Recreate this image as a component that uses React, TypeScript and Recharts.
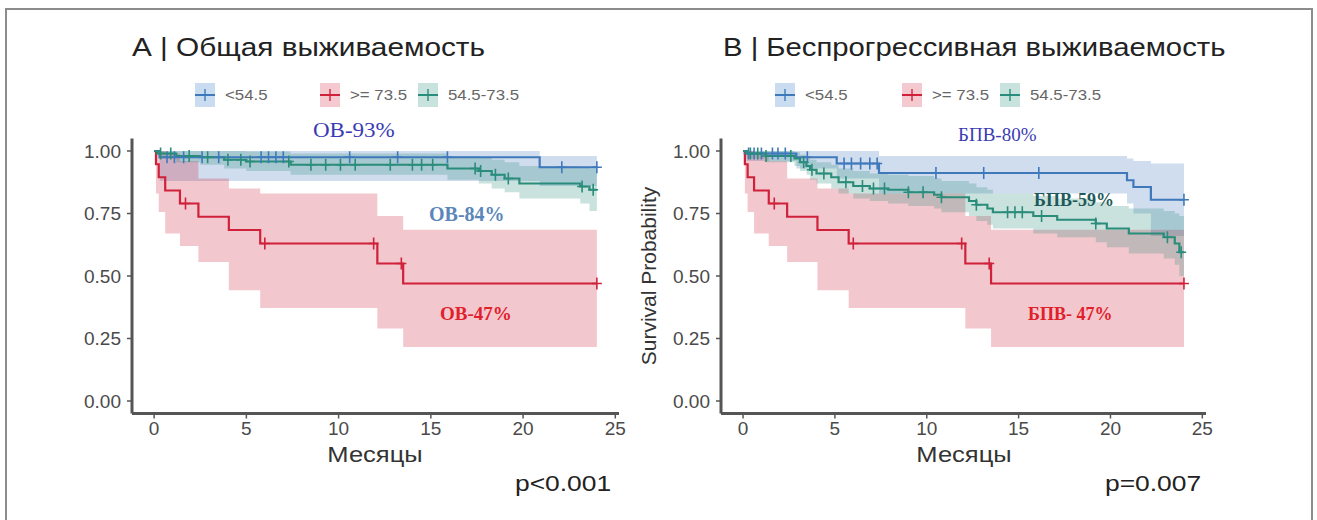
import React from 'react'
import { ComposedChart, Area, Line, Scatter, XAxis, YAxis } from 'recharts'

// x ticks (months) and y ticks (survival probability)
const monthTicks = [0, 5, 10, 15, 20, 25]
const probTicks = [0, 0.25, 0.5, 0.75, 1]

// ---- group ">= 73.5" (same curve in both panels) ----
const redTime = [0, 0.1, 0.25, 0.6, 1.4, 2.4, 4.05, 5.75, 12.1, 13.5, 24]
const redSurv = [1, 0.947, 0.895, 0.842, 0.79, 0.737, 0.684, 0.63, 0.55, 0.47, 0.47]
const redLow = [1, 0.83, 0.756, 0.67, 0.62, 0.556, 0.443, 0.372, 0.29, 0.216, 0.216]
const redHigh = [1, 1, 1, 0.99, 0.96, 0.89, 0.85, 0.83, 0.74, 0.685, 0.685]
const redCensor = [1.7, 6.0, 11.9, 13.4, 24]

// ---- A: overall survival ----
const osBlueTime = [0, 0.3, 20.9, 24]
const osBlueSurv = [1, 0.975, 0.935, 0.935]
const osBlueLow = [1, 0.88, 0.86, 0.86]
const osBlueHigh = [1, 1, 0.98, 0.98]
const osBlueCensor = [0.7, 1.1, 1.6, 2.6, 3.5, 5.8, 6.2, 6.6, 7.0, 10.6, 13.2, 15.9, 22.1, 24]

const osGreenTime = [0, 0.2, 1.2, 2.5, 3.8, 5.0, 7.4, 15.9, 17.6, 18.3, 19.0, 19.8, 23.1, 23.6, 24]
const osGreenSurv = [1, 0.99, 0.98, 0.975, 0.965, 0.958, 0.945, 0.93, 0.92, 0.905, 0.89, 0.87, 0.858, 0.845, 0.845]
const osGreenLow = [1, 0.97, 0.955, 0.945, 0.93, 0.92, 0.905, 0.885, 0.87, 0.85, 0.835, 0.81, 0.79, 0.76, 0.76]
const osGreenHigh = [1, 1, 1, 1, 1, 0.998, 0.99, 0.98, 0.975, 0.965, 0.955, 0.94, 0.935, 0.93, 0.93]
const osGreenCensor = [0.35, 0.9, 1.9, 2.9, 4.0, 4.7, 5.2, 7.3, 8.5, 9.3, 10.1, 10.9, 12.8, 14.0, 14.5, 15.1, 17.4, 17.7, 18.5, 19.2, 23.2, 23.8]

// ---- B: progression-free survival ----
const pfsBlueTime = [0, 0.2, 2.9, 5.1, 7.4, 20.9, 21.25, 22.2, 24]
const pfsBlueSurv = [1, 0.99, 0.975, 0.95, 0.912, 0.883, 0.856, 0.805, 0.805]
const pfsBlueLow = [1, 0.96, 0.93, 0.89, 0.83, 0.79, 0.75, 0.66, 0.66]
const pfsBlueHigh = [1, 1, 1, 1, 0.98, 0.97, 0.96, 0.95, 0.95]
const pfsBlueCensor = [0.3, 0.6, 1.0, 1.6, 1.9, 2.3, 3.5, 5.5, 5.9, 6.4, 6.9, 7.3, 10.5, 13.1, 16.1, 24]

const pfsGreenTime = [0, 0.2, 1.25, 2.8, 3.1, 3.45, 3.65, 4.0, 4.8, 5.2, 6.0, 6.9, 7.9, 9.0, 10.4, 10.8, 12.3, 12.7, 13.3, 13.6, 15.8, 17.1, 19.2, 19.8, 21.0, 22.9, 23.5, 23.75, 24]
const pfsGreenSurv = [1, 0.99, 0.98, 0.97, 0.955, 0.94, 0.925, 0.91, 0.895, 0.875, 0.86, 0.85, 0.845, 0.835, 0.825, 0.815, 0.8, 0.785, 0.77, 0.755, 0.74, 0.725, 0.71, 0.69, 0.67, 0.655, 0.63, 0.595, 0.595]
const pfsGreenLow = [1, 0.97, 0.955, 0.94, 0.92, 0.905, 0.885, 0.87, 0.85, 0.83, 0.81, 0.8, 0.79, 0.78, 0.77, 0.755, 0.74, 0.72, 0.705, 0.69, 0.67, 0.655, 0.635, 0.615, 0.59, 0.57, 0.545, 0.5, 0.5]
const pfsGreenHigh = [1, 1, 1, 0.995, 0.985, 0.975, 0.965, 0.955, 0.945, 0.93, 0.92, 0.91, 0.905, 0.9, 0.89, 0.88, 0.87, 0.855, 0.845, 0.83, 0.82, 0.81, 0.795, 0.78, 0.77, 0.76, 0.75, 0.74, 0.74]
const pfsGreenCensor = [0.4, 0.8, 1.25, 2.6, 3.3, 3.75, 4.4, 5.6, 6.5, 7.1, 7.7, 9.0, 9.8, 10.8, 12.7, 14.4, 14.8, 15.2, 16.25, 19.2, 23.1, 23.85]

const legendLabels = ['<54.5', '>= 73.5', '54.5-73.5']

const BLUE = '#3f79bb'
const RED = '#d0213a'
const GREEN = '#2a8c7a'

const SANS = '"Liberation Sans", Arial, sans-serif'
const SERIF = '"Liberation Serif", "Times New Roman", serif'

interface Group {
  color: string
  time: number[]
  surv: number[]
  low: number[]
  high: number[]
  censor: number[]
}

const survAt = (time: number[], surv: number[], x: number) => {
  let v = surv[0]
  time.forEach((t, i) => {
    if (t <= x) v = surv[i]
  })
  return v
}

const plusShape = (color: string) => (props: any) => {
  const { cx, cy } = props
  return (
    <path
      d={`M${cx},${cy - 6}V${cy + 6}M${cx - 5},${cy}H${cx + 5}`}
      stroke={color}
      strokeWidth={1.6}
      fill="none"
    />
  )
}

function KmPanel({ left, width, yAxisWidth, plotWidth, groups }: {
  left: number
  width: number
  yAxisWidth: number
  plotWidth: number
  groups: Group[]
}) {
  const tickStyle = { fill: '#4a4a4a', fontSize: 19, fontFamily: SANS }
  return (
    <div style={{ position: 'absolute', left, top: 0 }}>
      <ComposedChart
        width={width}
        height={520}
        margin={{ top: 138.5, right: width - yAxisWidth - plotWidth, left: 0, bottom: 76.5 }}
      >
        <XAxis
          type="number"
          dataKey="t"
          domain={[-1.2, 25.2]}
          ticks={monthTicks}
          allowDataOverflow
          height={30}
          axisLine={{ stroke: '#555', strokeWidth: 3 }}
          tickLine={{ stroke: '#555', strokeWidth: 1.5 }}
          tickSize={5}
          tickMargin={3}
          tick={tickStyle}
        />
        <YAxis
          type="number"
          domain={[-0.05, 1.05]}
          ticks={probTicks}
          allowDataOverflow
          width={yAxisWidth}
          tickFormatter={(v: number) => v.toFixed(2)}
          axisLine={{ stroke: '#555', strokeWidth: 3 }}
          tickLine={{ stroke: '#555', strokeWidth: 1.5 }}
          tickSize={5}
          tickMargin={6}
          tick={tickStyle}
        />
        {groups.map((g, k) => (
          <Area
            key={`band${k}`}
            data={g.time.map((t, i) => ({ t, band: [g.low[i], g.high[i]] }))}
            dataKey="band"
            type="stepAfter"
            stroke="none"
            fill={g.color}
            fillOpacity={0.25}
            isAnimationActive={false}
          />
        ))}
        {groups.map((g, k) => (
          <Line
            key={`line${k}`}
            data={g.time.map((t, i) => ({ t, s: g.surv[i] }))}
            dataKey="s"
            type="stepAfter"
            stroke={g.color}
            strokeWidth={2.2}
            dot={false}
            isAnimationActive={false}
          />
        ))}
        {groups.map((g, k) => (
          <Scatter
            key={`cens${k}`}
            data={g.censor.map((t) => ({ t, s: survAt(g.time, g.surv, t) }))}
            dataKey="s"
            shape={plusShape(g.color)}
            isAnimationActive={false}
          />
        ))}
      </ComposedChart>
    </div>
  )
}

function Txt({ x, y, children, size, color = '#222', weight = 'normal', family = SANS, sx = 1, center = false }: any) {
  return (
    <div
      style={{
        position: 'absolute',
        left: x,
        top: y,
        fontSize: size,
        lineHeight: 1,
        color,
        fontWeight: weight,
        fontFamily: family,
        whiteSpace: 'nowrap',
        transformOrigin: center ? 'center center' : 'left center',
        transform: center ? `translate(-50%, -50%) scaleX(${sx})` : `translateY(-50%) scaleX(${sx})`,
      }}
    >
      {children}
    </div>
  )
}

function LegendKey({ x, y, color, fill }: { x: number; y: number; color: string; fill: string }) {
  return (
    <svg style={{ position: 'absolute', left: x, top: y - 12 }} width={20} height={24}>
      <rect x={0} y={0} width={20} height={24} fill={fill} />
      <line x1={0} y1={12} x2={20} y2={12} stroke={color} strokeWidth={2} />
      <line x1={10} y1={6} x2={10} y2={18} stroke={color} strokeWidth={1.4} />
    </svg>
  )
}

function Legend({ keys, texts }: { keys: number[]; texts: number[] }) {
  const colors = [BLUE, RED, GREEN]
  const fills = ['#cadcf0', '#f4c9cf', '#c8e2dd']
  return (
    <>
      {legendLabels.map((lab, i) => (
        <React.Fragment key={lab}>
          <LegendKey x={keys[i]} y={95} color={colors[i]} fill={fills[i]} />
          <Txt x={texts[i]} y={95} size={14} color="#666" sx={1.2}>{lab}</Txt>
        </React.Fragment>
      ))}
    </>
  )
}

export default function App() {
  const osGroups: Group[] = [
    { color: BLUE, time: osBlueTime, surv: osBlueSurv, low: osBlueLow, high: osBlueHigh, censor: osBlueCensor },
    { color: RED, time: redTime, surv: redSurv, low: redLow, high: redHigh, censor: redCensor },
    { color: GREEN, time: osGreenTime, surv: osGreenSurv, low: osGreenLow, high: osGreenHigh, censor: osGreenCensor },
  ]
  const pfsGroups: Group[] = [
    { color: BLUE, time: pfsBlueTime, surv: pfsBlueSurv, low: pfsBlueLow, high: pfsBlueHigh, censor: pfsBlueCensor },
    { color: RED, time: redTime, surv: redSurv, low: redLow, high: redHigh, censor: redCensor },
    { color: GREEN, time: pfsGreenTime, surv: pfsGreenSurv, low: pfsGreenLow, high: pfsGreenHigh, censor: pfsGreenCensor },
  ]

  return (
    <div style={{ position: 'relative', width: 1317, height: 520, overflow: 'hidden', background: '#fff' }}>
      <style>{'body{margin:0}'}</style>
      <div
        style={{
          position: 'absolute', left: 5, top: 8, width: 1304, height: 520,
          borderTop: '2px solid #8c8c8c', borderLeft: '2px solid #8c8c8c', borderRight: '2px solid #8c8c8c',
        }}
      />

      <KmPanel left={0} width={660} yAxisWidth={132} plotWidth={487} groups={osGroups} />
      <KmPanel left={660} width={657} yAxisWidth={61} plotWidth={485} groups={pfsGroups} />

      {/* panel A texts */}
      <Txt x={132} y={47} size={25} sx={1.19}>А | Общая выживаемость</Txt>
      <Legend keys={[195, 320, 418]} texts={[225, 350, 448]} />
      <Txt x={313} y={130} size={20} color="#3b3bb3" family={SERIF} sx={1.15}>ОВ-93%</Txt>
      <Txt x={429} y={214} size={20} color="#5b86b9" family={SERIF} weight="bold">ОВ-84%</Txt>
      <Txt x={440} y={313} size={19} color="#e0202a" family={SERIF} weight="bold">ОВ-47%</Txt>
      <Txt x={375} y={455} size={22} color="#333" sx={1.16} center>Месяцы</Txt>
      <Txt x={515} y={484} size={22} color="#222" sx={1.2}>p&lt;0.001</Txt>

      {/* panel B texts */}
      <Txt x={723} y={47} size={25} sx={1.17}>B | Беспрогрессивная выживаемость</Txt>
      <Legend keys={[775, 902, 1000]} texts={[805, 932, 1030]} />
      <Txt x={958} y={134} size={19} color="#3b3bb3" family={SERIF}>БПВ-80%</Txt>
      <Txt x={1034} y={200} size={18} color="#1f5a5a" family={SERIF} weight="bold">БПВ-59%</Txt>
      <Txt x={1028} y={314} size={18} color="#e0202a" family={SERIF} weight="bold">БПВ- 47%</Txt>
      <Txt x={964} y={455} size={22} color="#333" sx={1.16} center>Месяцы</Txt>
      <Txt x={1105} y={484} size={22} color="#222" sx={1.2}>p=0.007</Txt>
      <div
        style={{
          position: 'absolute', left: 648, top: 276, fontSize: 21, lineHeight: 1, color: '#333',
          fontFamily: SANS, whiteSpace: 'nowrap', transform: 'translate(-50%, -50%) rotate(-90deg)',
        }}
      >
        Survival Probability
      </div>
    </div>
  )
}
